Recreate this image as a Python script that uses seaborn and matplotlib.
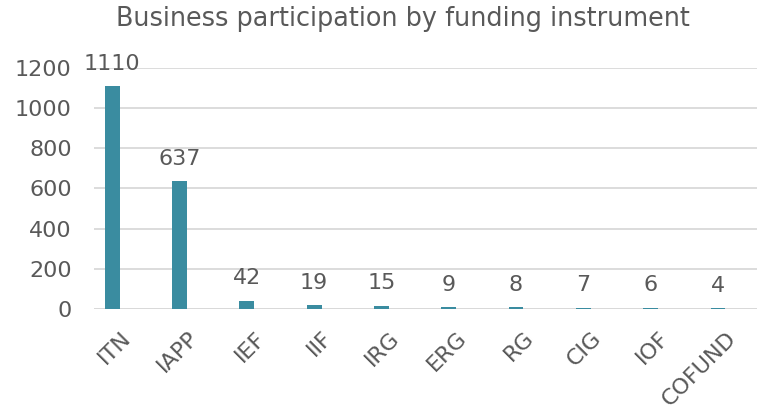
import numpy as np
import pandas as pd
import seaborn as sns
import matplotlib.pyplot as plt
import matplotlib.transforms as mtransforms

# dados
instrumentos = ['ITN', 'IAPP', 'IEF', 'IIF', 'IRG', 'ERG', 'RG', 'CIG', 'IOF', 'COFUND']
participacao = [1110, 637, 42, 19, 15, 9, 8, 7, 6, 4]

df = pd.DataFrame({'instrumento': instrumentos, 'participacao': participacao})

sns.set_style('white')
plt.rcParams['font.family'] = ['DejaVu Sans']
cinza = '#595959'

fig = plt.figure(figsize=(7.57, 4.12), dpi=100)
ax = fig.add_axes([94 / 757, 0.25, 1 - 94 / 757, 0.585])

sns.barplot(data=df, x='instrumento', y='participacao', color='#3A8CA0',
            width=0.22, saturation=1, linewidth=0, ax=ax, zorder=3)

ax.set_ylim(0, 1200)
ax.set_yticks(np.arange(0, 1201, 200))
ax.set_xlim(-0.27, 9.58)
ax.grid(axis='y', color='#D9D9D9', linewidth=1.3, zorder=0)
sns.despine(ax=ax, left=True, bottom=True, top=True, right=True)
ax.axhline(0, color='#D9D9D9', linewidth=1.3, zorder=1)

ax.set_xlabel('')
ax.set_ylabel('')
ax.tick_params(axis='both', length=0, labelsize=16, colors=cinza)
ax.tick_params(axis='y', pad=16)

# rótulos do eixo x rotacionados
offset = mtransforms.ScaledTranslation(8 / 100, -14 / 100, fig.dpi_scale_trans)
for lbl in ax.get_xticklabels():
    lbl.set_rotation(45)
    lbl.set_ha('right')
    lbl.set_rotation_mode('anchor')
    lbl.set_transform(lbl.get_transform() + offset)

# valores acima das barras
for i, v in enumerate(participacao):
    ax.annotate(str(v), (i, v), xytext=(0, 9), textcoords='offset points',
                ha='center', va='bottom', fontsize=16, color=cinza, clip_on=False)

fig.text(0.532, 0.955, 'Business participation by funding instrument',
         ha='center', va='center', fontsize=18.4, color=cinza)

plt.savefig('out.png', dpi=100)
